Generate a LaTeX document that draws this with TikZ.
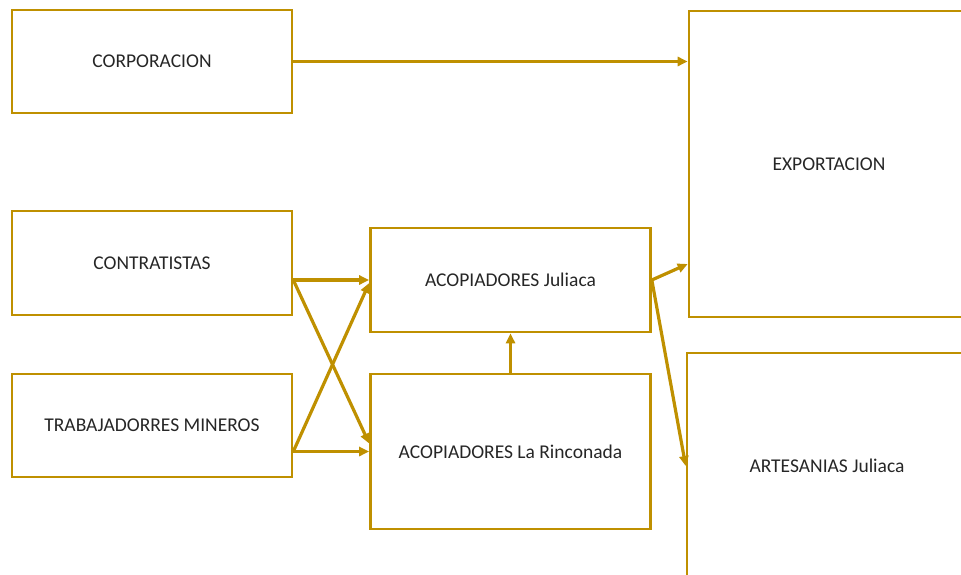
\documentclass[tikz,border=0pt]{standalone}
\usepackage{fontspec}
\setmainfont{Carlito}
\usetikzlibrary{arrows.meta,calc}
\definecolor{oro}{HTML}{BF9000}
\tikzset{caja/.style={
        draw=oro,
        line width=2.6pt,
        minimum width=280pt,
        minimum height=#1,
        inner sep=0pt,
        text=black!85,
        font=\fontsize{19.5}{22}\selectfont
    },
    flecha/.style={
        draw=oro,
        line width=3.2pt,
        -{Triangle[length=10pt,width=9pt]}
    }
}

\begin{document}
\begin{tikzpicture}[x=1pt,y=-1pt]
        \useasboundingbox (0,0) rectangle (961,575);
        \node[caja=103pt] (corp)  at (152,61.5)  {CORPORACION};
        \node[caja=104pt] (contr) at (152,263)   {CONTRATISTAS};
        \node[caja=103pt] (trab)  at (152,425.5) {TRABAJADORRES MINEROS};
        \node[caja=104pt] (acj)   at (510.5,280) {ACOPIADORES Juliaca};
        \node[caja=155pt] (acr)   at (510.5,451.5) {ACOPIADORES La Rinconada};
        \node[caja=306pt] (exp)   at (829,164)   {EXPORTACION};
        \node[caja=226pt] (art)   at (827,466)   {ARTESANIAS Juliaca};
        \draw[flecha] (corp.east) -- (corp.east -| exp.west);
        \draw[flecha] (contr.east |- acj.west) -- (acj.west);
        \draw[flecha] (contr.east |- acj.west) -- ([yshift=8pt]acr.west);
        \draw[flecha] (trab.east |- acr.west) -- (acr.west);
        \draw[flecha] (trab.east |- acr.west) -- ([yshift=-3pt]acj.west);
        \draw[flecha] (acr.north) -- (acj.south);
        \draw[flecha] (acj.east) -- ([yshift=-100pt]exp.west);
        \draw[flecha] (acj.east) -- (art.west);
    \end{tikzpicture}
\end{document}
